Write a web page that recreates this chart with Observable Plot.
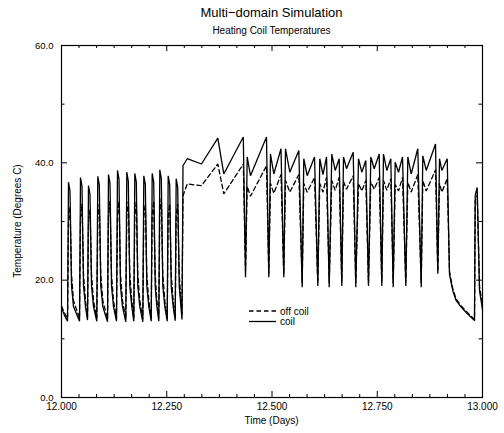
<!DOCTYPE html>
<html>
<head>
<meta charset="utf-8">
<script src="https://cdn.jsdelivr.net/npm/d3@7"></script>
<script src="https://cdn.jsdelivr.net/npm/@observablehq/plot@0.6"></script>
<style>
  html, body { margin: 0; padding: 0; background: #fff; }
  #wrap { position: relative; width: 504px; height: 433px; font-family: "Liberation Sans", Arial, sans-serif; }
  #wrap svg.overlay { position: absolute; left: 0; top: 0; pointer-events: none; }
</style>
</head>
<body>
<div id="wrap"></div>
<script>
// ---- Data ----
const time = [
  12.0000, 12.0071, 12.0143,
  12.0166, 12.0202, 12.0238, 12.0285, 12.0428,
  12.0451, 12.0487, 12.0523, 12.0570, 12.0618,
  12.0641, 12.0677, 12.0713, 12.0760, 12.0838,
  12.0862, 12.0898, 12.0933, 12.0981, 12.1093,
  12.1116, 12.1152, 12.1188, 12.1235, 12.1306,
  12.1330, 12.1366, 12.1401, 12.1449, 12.1527,
  12.1551, 12.1587, 12.1622, 12.1670, 12.1717,
  12.1741, 12.1777, 12.1812, 12.1860, 12.1931,
  12.1955, 12.1991, 12.2026, 12.2074, 12.2131,
  12.2154, 12.2190, 12.2226, 12.2261, 12.2311,
  12.2335, 12.2371, 12.2406, 12.2454, 12.2511,
  12.2534, 12.2570, 12.2606, 12.2653, 12.2701,
  12.2724, 12.2760, 12.2796, 12.2862,
  12.2886, 12.2986, 12.3325, 12.3713, 12.3855, 12.4318, 12.4371,
  12.4411, 12.4489, 12.4869, 12.4924,
  12.4964, 12.5043, 12.5214, 12.5280,
  12.5321, 12.5423, 12.5637, 12.5717,
  12.5755, 12.5836, 12.6010, 12.6088,
  12.6135, 12.6211, 12.6295, 12.6359,
  12.6420, 12.6501, 12.6596, 12.6658,
  12.6698, 12.6770, 12.6929, 12.6990,
  12.7055, 12.7133, 12.7228, 12.7292,
  12.7347, 12.7428, 12.7546, 12.7608,
  12.7648, 12.7727, 12.7822, 12.7879,
  12.7926, 12.8005, 12.8100, 12.8178,
  12.8226, 12.8306, 12.8463, 12.8544,
  12.8582, 12.8663, 12.8884, 12.8938,
  12.8979, 12.9034, 12.9162, 12.9216,
  12.9295, 12.9375, 12.9494, 12.9613, 12.9810,
  12.9827, 12.9874, 12.9929, 13.0000
];

const coil = [
  15.3, 14.0, 13.0,
  36.7, 35.2, 19, 15.5, 13.0,
  37.5, 36.0, 19, 15.5, 13.2,
  36.1, 34.6, 19, 15.5, 13.0,
  37.7, 36.2, 19, 15.5, 12.9,
  38.0, 36.5, 19, 15.5, 13.0,
  38.7, 37.2, 19, 15.5, 12.9,
  38.4, 36.9, 19, 15.5, 13.0,
  38.2, 36.7, 19, 15.5, 12.9,
  37.8, 36.3, 19, 15.5, 13.0,
  38.2, 36.7, 19, 15.8, 13.0,
  38.8, 37.3, 19, 15.5, 13.0,
  37.8, 36.3, 19, 15.5, 13.1,
  37.3, 35.8, 19, 13.3,
  39.5, 40.7, 39.8, 44.2, 38.1, 44.4, 20.5,
  41.0, 37.8, 44.4, 20.5,
  41.5, 38.1, 42.4, 20.5,
  42.4, 38.4, 42.1, 18.8,
  40.7, 37.8, 41.0, 19.0,
  40.7, 38.0, 41.0, 18.8,
  41.5, 38.7, 40.7, 19.0,
  41.0, 39.0, 41.8, 18.8,
  40.7, 38.4, 40.4, 19.0,
  41.0, 39.0, 41.5, 19.0,
  41.5, 38.7, 40.7, 18.8,
  40.1, 38.4, 41.0, 19.0,
  41.0, 38.1, 42.4, 18.8,
  41.2, 38.7, 43.2, 21.1,
  40.7, 38.7, 40.7, 21.0,
  18.2, 16.5, 15.4, 14.5, 13.1,
  34.4, 35.8, 18.2, 15.0
];

const offCoil = [
  15.6, 14.4, 13.5,
  30.0, 32.5, 21, 16.5, 13.5,
  30.5, 33.0, 21, 16.5, 13.6,
  30.0, 32.0, 21, 16.5, 13.5,
  30.5, 33.0, 21, 16.5, 13.4,
  31.0, 33.5, 21, 16.5, 13.5,
  31.0, 33.5, 21, 16.5, 13.4,
  31.0, 33.5, 21, 16.5, 13.5,
  31.0, 33.5, 21, 16.5, 13.4,
  31.0, 33.0, 21, 16.5, 13.5,
  31.0, 33.5, 21, 16.8, 13.5,
  31.5, 34.0, 21, 16.5, 13.5,
  31.0, 33.0, 21, 16.5, 13.6,
  31.0, 33.0, 21, 14.0,
  34.4, 36.4, 36.1, 39.8, 34.7, 39.8, 21.5,
  36.0, 34.3, 39.5, 21.0,
  36.5, 34.8, 38.0, 21.0,
  37.0, 35.0, 38.0, 19.5,
  36.5, 35.0, 37.5, 19.5,
  36.5, 35.0, 37.5, 19.5,
  37.0, 35.3, 37.5, 19.5,
  36.8, 35.5, 37.8, 19.5,
  36.5, 35.2, 37.0, 19.5,
  36.8, 35.5, 37.5, 19.5,
  37.0, 35.3, 37.3, 19.5,
  36.3, 35.2, 37.5, 19.5,
  36.7, 35.0, 38.0, 19.5,
  37.0, 35.2, 38.8, 21.5,
  36.5, 35.0, 37.3, 21.5,
  18.5, 16.8, 15.6, 14.7, 13.3,
  33.5, 34.5, 19.0, 15.5
];

const xMajorTicks = [12.0, 12.25, 12.5, 12.75, 13.0];
const yMajorTicks = [0, 20, 40, 60];
const yMinorTicks = [10, 30, 50];
const seriesNames = ["off coil", "coil"];
const titleText = "Multi\u2212domain Simulation";
const subtitleText = "Heating Coil Temperatures";
const xLabel = "Time (Days)";
const yLabel = "Temperature (Degrees C)";

// ---- Layout ----
const W = 504, H = 433;
const mL = 61, mR = 22, mT = 45, mB = 36;
const fW = W - mL - mR, fH = H - mT - mB;
const xMinorTicks = d3.range(1, 24).filter(k => k % 6 !== 0).map(k => 12 + k / 24);

const n = Math.min(time.length, coil.length, offCoil.length);
const coilRows = d3.range(n).map(i => ({t: time[i], v: coil[i]}));
const offRows = d3.range(n).map(i => ({t: time[i], v: offCoil[i]}));

const chart = Plot.plot({
  width: W,
  height: H,
  marginLeft: mL,
  marginRight: mR,
  marginTop: mT,
  marginBottom: mB,
  style: {fontFamily: '"Liberation Sans", Arial, sans-serif', background: "#fff", color: "#000"},
  x: {domain: [12, 13]},
  y: {domain: [0, 60]},
  marks: [
    Plot.line(offRows, {x: "t", y: "v", stroke: "#000", strokeWidth: 1.3, strokeDasharray: "4.5,3", strokeLinejoin: "miter"}),
    Plot.line(coilRows, {x: "t", y: "v", stroke: "#000", strokeWidth: 1.3, strokeLinejoin: "miter"}),
    // inward ticks, all four sides
    Plot.tickX(xMajorTicks, {x: d => d, stroke: "#000", strokeWidth: 1, insetTop: fH - 6}),
    Plot.tickX(xMinorTicks, {x: d => d, stroke: "#000", strokeWidth: 1, insetTop: fH - 3}),
    Plot.tickX(xMajorTicks, {x: d => d, stroke: "#000", strokeWidth: 1, insetBottom: fH - 6}),
    Plot.tickX(xMinorTicks, {x: d => d, stroke: "#000", strokeWidth: 1, insetBottom: fH - 3}),
    Plot.tickY(yMajorTicks, {y: d => d, stroke: "#000", strokeWidth: 1, insetRight: fW - 6}),
    Plot.tickY(yMinorTicks, {y: d => d, stroke: "#000", strokeWidth: 1, insetRight: fW - 3.5}),
    Plot.tickY(yMajorTicks, {y: d => d, stroke: "#000", strokeWidth: 1, insetLeft: fW - 6}),
    Plot.tickY(yMinorTicks, {y: d => d, stroke: "#000", strokeWidth: 1, insetLeft: fW - 3.5}),
    Plot.axisX({ticks: xMajorTicks, tickSize: 0, tickPadding: 5, tickFormat: d3.format(".3f"), fontSize: 10, label: null}),
    Plot.axisY({ticks: yMajorTicks, tickSize: 0, tickPadding: 8, tickFormat: d3.format(".1f"), fontSize: 9.5, label: null}),
    Plot.frame({stroke: "#000", strokeWidth: 1.2})
  ]
});

const wrap = document.getElementById("wrap");
wrap.appendChild(chart);

// ---- Overlay: titles, axis labels, legend ----
const ov = d3.select(wrap).append("svg")
  .attr("class", "overlay")
  .attr("width", W).attr("height", H)
  .attr("font-family", '"Liberation Sans", Arial, sans-serif')
  .attr("fill", "#000");

const cx = mL + fW / 2;
ov.append("text").attr("x", cx).attr("y", 17).attr("text-anchor", "middle").attr("font-size", 13).text(titleText);
ov.append("text").attr("x", cx).attr("y", 34).attr("text-anchor", "middle").attr("font-size", 10).text(subtitleText);
ov.append("text").attr("x", cx).attr("y", 424).attr("text-anchor", "middle").attr("font-size", 10).text(xLabel);
ov.append("text").attr("transform", `translate(21,${mT + fH / 2}) rotate(-90)`).attr("text-anchor", "middle").attr("font-size", 10).text(yLabel);

const legend = ov.append("g").attr("transform", "translate(249,311)");
legend.append("line").attr("x1", 0).attr("x2", 27).attr("y1", 0).attr("y2", 0)
  .attr("stroke", "#000").attr("stroke-width", 1.3).attr("stroke-dasharray", "4.5,3");
legend.append("text").attr("x", 31).attr("y", 3.5).attr("font-size", 10).text(seriesNames[0]);
legend.append("line").attr("x1", 0).attr("x2", 27).attr("y1", 10.5).attr("y2", 10.5)
  .attr("stroke", "#000").attr("stroke-width", 1.3);
legend.append("text").attr("x", 31).attr("y", 14).attr("font-size", 10).text(seriesNames[1]);
</script>
</body>
</html>
